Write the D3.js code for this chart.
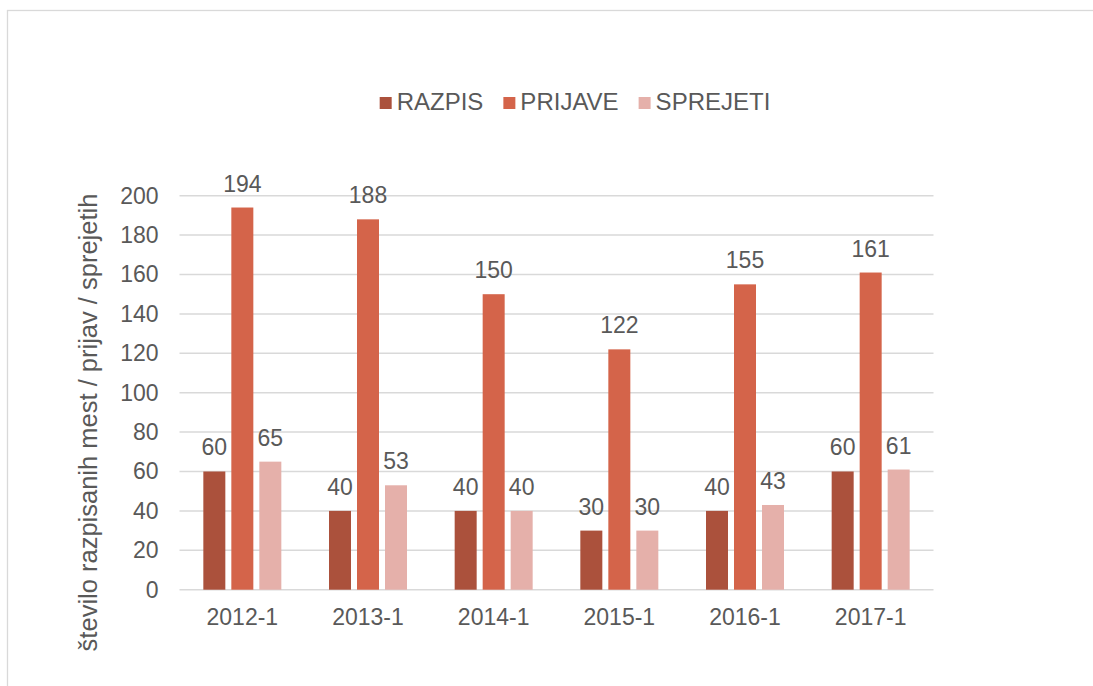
<!DOCTYPE html>
<html>
<head>
<meta charset="utf-8">
<script src="https://cdn.jsdelivr.net/npm/d3@7"></script>
<style>
  body { margin: 0; background: #fff; }
  text { font-family: "Liberation Sans", Arial, sans-serif; fill: #595959; }
</style>
</head>
<body>
<div id="wrapper"></div>
<script>
const categories = ['2012-1', '2013-1', '2014-1', '2015-1', '2016-1', '2017-1']
const seriesNames = ['RAZPIS', 'PRIJAVE', 'SPREJETI']
const razpis = [60, 40, 40, 30, 40, 60]
const prijave = [194, 188, 150, 122, 155, 161]
const sprejeti = [65, 53, 40, 30, 43, 61]
const yTicks = [0, 20, 40, 60, 80, 100, 120, 140, 160, 180, 200]
const seriesColors = ['#ab513c', '#d4644a', '#e5b0aa']
const yTitle = 'število razpisanih mest / prijav / sprejetih'

function drawChart() {
  const values = [razpis, prijave, sprejeti]

  const dimensions = {
    width: 1093,
    height: 686,
    margin: { top: 195.7, right: 159.5, bottom: 96.3, left: 179.5 },
  }
  dimensions.boundedWidth = dimensions.width - dimensions.margin.left - dimensions.margin.right
  dimensions.boundedHeight = dimensions.height - dimensions.margin.top - dimensions.margin.bottom

  const xScale = d3.scaleBand()
    .domain(categories)
    .range([0, dimensions.boundedWidth])
    .paddingInner(0)
    .paddingOuter(0)

  const barWidth = 22
  const barStep = 28
  const seriesScale = d3.scaleBand()
    .domain(seriesNames)
    .range([xScale.bandwidth() / 2 - barStep * 1.5, xScale.bandwidth() / 2 + barStep * 1.5])

  const yScale = d3.scaleLinear()
    .domain([0, 200])
    .range([dimensions.boundedHeight, 0])

  const svg = d3.select('#wrapper')
    .append('svg')
    .attr('width', dimensions.width)
    .attr('height', dimensions.height)

  // chart area border (only top and left visible)
  svg.append('rect')
    .attr('x', 7.5)
    .attr('y', 10.5)
    .attr('width', 1200)
    .attr('height', 1000)
    .attr('fill', 'none')
    .attr('stroke', '#d9d9d9')
    .attr('stroke-width', 1.3)

  const bounds = svg.append('g')
    .attr('transform', `translate(${dimensions.margin.left} ${dimensions.margin.top})`)

  // gridlines
  bounds.append('g')
    .selectAll('line')
    .data(yTicks)
    .enter()
    .append('line')
    .attr('x1', 0)
    .attr('x2', dimensions.boundedWidth)
    .attr('y1', d => yScale(d))
    .attr('y2', d => yScale(d))
    .attr('stroke', '#d9d9d9')
    .attr('stroke-width', 1.5)

  // y tick labels
  const yAxis = d3.axisLeft(yScale).tickValues(yTicks).tickSize(0).tickPadding(21)
  const yAxisGroup = bounds.append('g').call(yAxis)
  yAxisGroup.select('.domain').remove()
  yAxisGroup.selectAll('text')
    .attr('font-size', 23)
    .attr('font-family', null)
    .style('fill', '#595959')

  // x labels
  const xAxis = d3.axisBottom(xScale).tickSize(0).tickPadding(19)
  const xAxisGroup = bounds.append('g')
    .attr('transform', `translate(0 ${dimensions.boundedHeight})`)
    .call(xAxis)
  xAxisGroup.select('.domain').remove()
  xAxisGroup.selectAll('text')
    .attr('font-size', 23)
    .attr('font-family', null)
    .style('fill', '#595959')

  // bars
  const barData = d3.merge(categories.map((cat, i) => seriesNames.map((s, j) => ({
    cat, series: s, value: values[j][i], color: seriesColors[j]
  }))))

  const barGroups = bounds.append('g')
    .selectAll('g')
    .data(barData)
    .enter()
    .append('g')
    .attr('transform', d => `translate(${xScale(d.cat) + seriesScale(d.series) + (barStep - barWidth) / 2} 0)`)

  barGroups.append('rect')
    .attr('x', 0)
    .attr('width', barWidth)
    .attr('y', d => yScale(d.value))
    .attr('height', d => dimensions.boundedHeight - yScale(d.value))
    .attr('fill', d => d.color)

  barGroups.append('text')
    .attr('x', barWidth / 2)
    .attr('y', d => yScale(d.value) - 16)
    .attr('text-anchor', 'middle')
    .attr('font-size', 23)
    .text(d => d.value)

  // y axis title
  svg.append('text')
    .attr('transform', 'translate(97 422.5) rotate(-90)')
    .attr('text-anchor', 'middle')
    .attr('font-size', 25.5)
    .text(yTitle)

  // legend
  const legend = svg.append('g')
  const items = legend.selectAll('g')
    .data(seriesNames)
    .enter()
    .append('g')
  items.append('rect')
    .attr('y', 97)
    .attr('width', 12)
    .attr('height', 12)
    .attr('fill', (d, i) => seriesColors[i])
  items.append('text')
    .attr('x', 17)
    .attr('y', 109.5)
    .attr('font-size', 24)
    .text(d => d)

  let offset = 0
  items.each(function () {
    const w = d3.select(this).select('text').node().getComputedTextLength()
    d3.select(this).attr('transform', `translate(${offset} 0)`)
    offset += 17 + w + 20
  })
  const totalWidth = offset - 20
  legend.attr('transform', `translate(${575 - totalWidth / 2} 0)`)
}

drawChart()
</script>
</body>
</html>
